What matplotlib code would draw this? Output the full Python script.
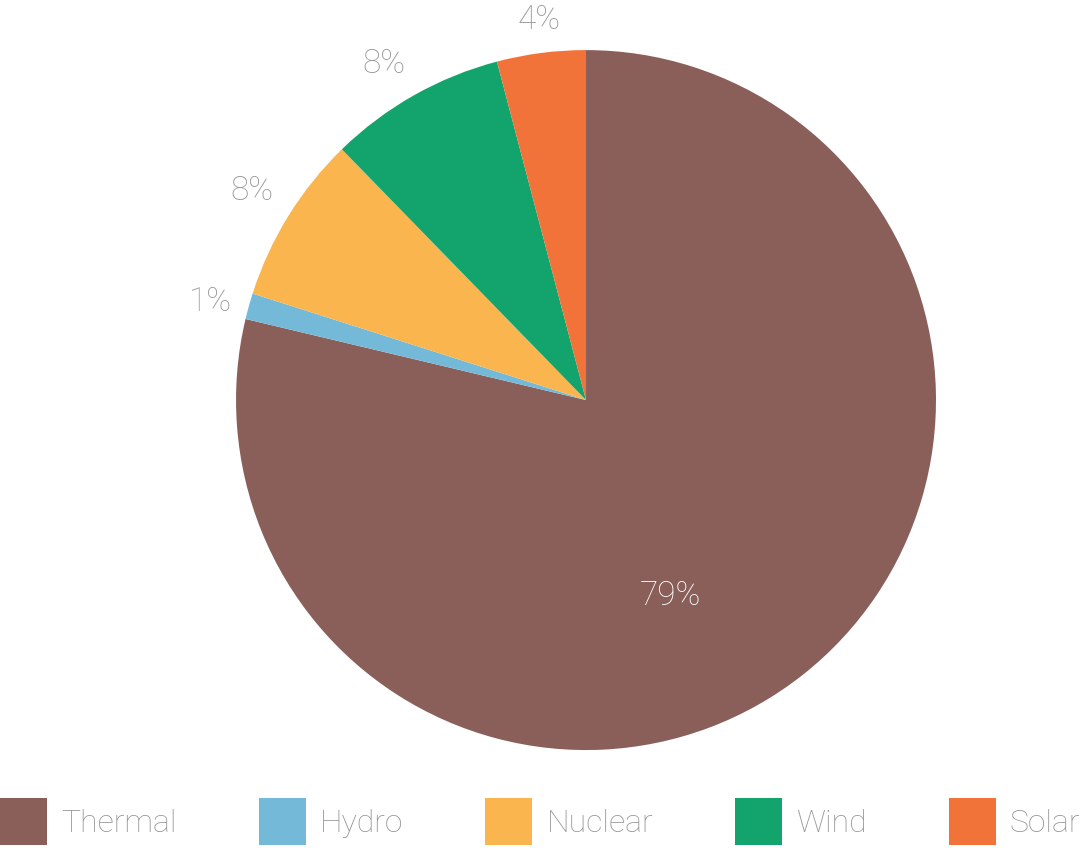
import numpy as np
import matplotlib.pyplot as plt
from matplotlib.patches import Patch

sources = ['Thermal', 'Hydro', 'Nuclear', 'Wind', 'Solar']
shares = [78.8, 1.2, 7.8, 8.2, 4.1]
colors = ['#8A5F5A', '#74BAD8', '#FAB54F', '#13A46D', '#F2733A']

plt.rcParams['font.family'] = ['Roboto', 'DejaVu Sans']
grey = '#969696'

fig = plt.figure(figsize=(10.84, 8.65), dpi=100)
ax = fig.add_axes([0.2177, 0.1329, 0.6458, 0.8092])

wedges, texts = ax.pie(shares, colors=colors, startangle=90, counterclock=False,
                       wedgeprops={'linewidth': 0})
ax.set_xlim(-1, 1)
ax.set_ylim(-1, 1)
ax.set_aspect('equal')
ax.axis('off')

for i, (w, s) in enumerate(zip(wedges, shares)):
    lab = '%d%%' % round(s)
    mid = np.deg2rad((w.theta1 + w.theta2) / 2)
    c, sn = np.cos(mid), np.sin(mid)
    if i == 0:
        # the big slice gets its label inside
        ang = np.deg2rad(-66.7)
        ax.text(0.61 * np.cos(ang), 0.61 * np.sin(ang), lab, ha='center', va='center',
                fontsize=24, color='#FFFFFF', fontweight='light')
        continue
    ha = 'right' if c < -0.3 else ('left' if c > 0.3 else 'center')
    va = 'bottom' if sn > 0.3 else ('top' if sn < -0.3 else 'center')
    ax.text(1.05 * c, 1.05 * sn, lab, ha=ha, va=va, fontsize=24, color=grey,
            fontweight='light')

handles = [Patch(facecolor=c, edgecolor='none') for c in colors]
fig.legend(handles, sources, loc='lower left', bbox_to_anchor=(0.0, 0.023), ncol=5,
           frameon=False, handlelength=1.47, handleheight=1.88,
           handletextpad=0.45, columnspacing=2.56, borderpad=0, borderaxespad=0,
           labelcolor=grey, prop={'size': 23, 'weight': 'light'})

fig.savefig('out.png', dpi=100)
